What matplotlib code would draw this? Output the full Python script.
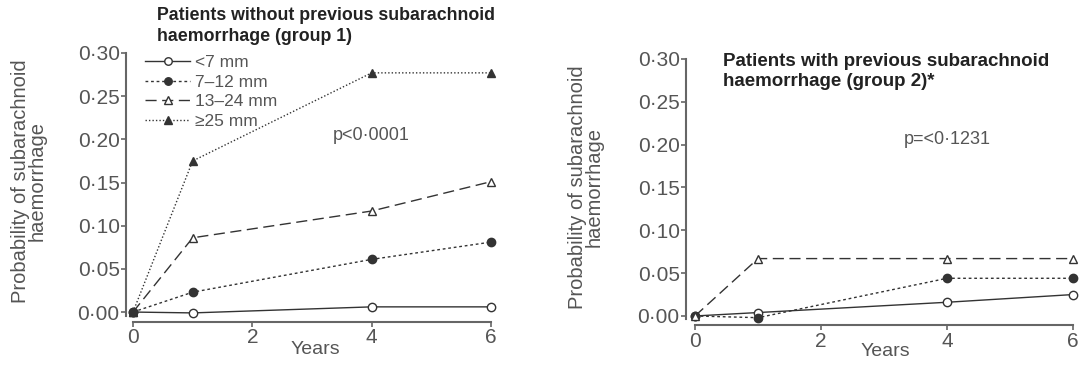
import matplotlib
matplotlib.use("Agg")
import matplotlib.pyplot as plt
from matplotlib.ticker import FuncFormatter

# years of follow-up
years = [0, 1, 4, 6]

# group 1: patients without previous subarachnoid haemorrhage
g1_lt7 = [0.0, -0.001, 0.006, 0.006]
g1_7_12 = [0.0, 0.023, 0.061, 0.081]
g1_13_24 = [0.0, 0.086, 0.117, 0.151]
g1_ge25 = [0.0, 0.175, 0.277, 0.277]

# group 2: patients with previous subarachnoid haemorrhage
g2_lt7 = [0.0, 0.004, 0.016, 0.025]
g2_7_12 = [0.0, -0.002, 0.044, 0.044]
g2_13_24 = [0.0, 0.067, 0.067, 0.067]

labels = ["<7 mm", "7\u201312 mm", "13\u201324 mm", "\u226525 mm"]
yticks = [0, 0.05, 0.10, 0.15, 0.20, 0.25, 0.30]
xticks = [0, 2, 4, 6]

plt.rcParams['font.family'] = ['Liberation Sans', 'DejaVu Sans']
W, H = 1089, 366
line_c = '#333333'
text_c = '#555555'

styles = [
    dict(ls='-', marker='o', mfc='white'),
    dict(ls=(0, (2, 2)), marker='o', mfc=line_c),
    dict(ls=(0, (8, 4)), marker='^', mfc='white'),
    dict(ls=(0, (1, 1.5)), marker='^', mfc=line_c),
]

fig = plt.figure(figsize=(W / 100, H / 100), dpi=100)


def make_axes(left, bottom, width, top, left_off, bottom_off):
    ax = fig.add_axes([left / W, 1 - bottom / H, width / W, (bottom - top) / H])
    ax.set_xlim(0, 6)
    ax.set_ylim(-0.004, 0.30)
    for s in ['top', 'right']:
        ax.spines[s].set_visible(False)
    ax.spines['left'].set_position(('outward', left_off * 0.72))
    ax.spines['bottom'].set_position(('outward', bottom_off * 0.72))
    ax.spines['left'].set_bounds(-0.004, 0.30)
    for s in ['left', 'bottom']:
        ax.spines[s].set_color('#666666')
        ax.spines[s].set_linewidth(1.5)
    ax.set_yticks(yticks)
    ax.set_xticks(xticks)
    ax.yaxis.set_major_formatter(FuncFormatter(lambda v, p: f"{v:.2f}".replace('.', '\u00b7')))
    ax.tick_params(colors='#666666', labelcolor=text_c, labelsize=15, length=3.5, width=1.2, pad=1)
    return ax


ax1 = make_axes(133, 315.5, 358, 53, 7, 6.5)
ax2 = make_axes(695, 319.4, 378, 59, 9, 6)

for vals, st, lab in zip([g1_lt7, g1_7_12, g1_13_24, g1_ge25], styles, labels):
    ax1.plot(years, vals, color=line_c, lw=1.0, ms=6, mec=line_c, mew=1.0,
             clip_on=False, label=lab, **st)

for vals, st in zip([g2_lt7, g2_7_12, g2_13_24], styles):
    ax2.plot(years, vals, color=line_c, lw=1.0, ms=6, mec=line_c, mew=1.0,
             clip_on=False, **st)

leg = ax1.legend(loc='upper left', bbox_to_anchor=(145 / W, 1 - 55 / H),
                 bbox_transform=fig.transFigure, frameon=False, fontsize=12.5,
                 handlelength=2.6, handletextpad=0.3, labelspacing=0.25,
                 borderpad=0, borderaxespad=0, markerscale=0.9)
for t in leg.get_texts():
    t.set_color(text_c)

fig.text(157 / W, 1 - 7 / H, "Patients without previous subarachnoid\nhaemorrhage (group 1)",
         ha='left', va='top', fontsize=12.8, fontweight='bold', color='#222222', linespacing=1.3)
fig.text(723 / W, 1 - 53 / H, "Patients with previous subarachnoid\nhaemorrhage (group 2)*",
         ha='left', va='top', fontsize=13.5, fontweight='bold', color='#222222', linespacing=1.25)

fig.text(371 / W, 1 - 135 / H, "p<0\u00b70001", ha='center', va='center', fontsize=13, color=text_c)
fig.text(947 / W, 1 - 140 / H, "p=<0\u00b71231", ha='center', va='center', fontsize=13, color=text_c)

for x, y in [(29, 181), (586, 187)]:
    fig.text(x / W, 1 - y / H, "Probability of subarachnoid\nhaemorrhage", rotation=90,
             ha='center', va='center', fontsize=14.5, color=text_c, linespacing=0.85)
for x, y in [(315, 349), (885, 352)]:
    fig.text(x / W, 1 - y / H, "Years", ha='center', va='center', fontsize=14, color=text_c)

fig.savefig('out.png', dpi=100)
